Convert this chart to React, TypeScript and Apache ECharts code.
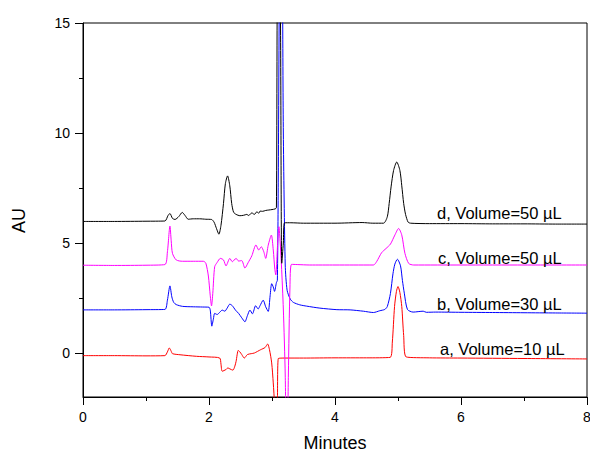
import React, { useEffect, useRef } from "react";
import * as echarts from "echarts";

const xTickValues = [0, 2, 4, 6, 8];
const yTickValues = [0, 5, 10, 15];
const yMinorTickValues = [2.5, 7.5, 12.5];

const seriesNames = ["a, Volume=10 µL", "b, Volume=30 µL", "c, Volume=50 µL", "d, Volume=50 µL"];
const seriesColors = ["#ff0000", "#0000ff", "#ff00ff", "#000000"];

const seriesA: [number, number][] = [
  [0, -0.12], [0.5, -0.12], [1.0, -0.13], [1.3, -0.12], [1.34, 0.05], [1.37, 0.23], [1.4, 0.08],
  [1.42, -0.03], [1.54, -0.08], [1.8, -0.15], [2.0, -0.18], [2.17, -0.23], [2.19, -0.5], [2.21, -0.83],
  [2.27, -0.75], [2.3, -0.68], [2.33, -0.72], [2.38, -0.78], [2.41, -0.6], [2.43, -0.38], [2.465, 0.12],
  [2.49, 0.05], [2.52, -0.07], [2.56, -0.23], [2.61, -0.07], [2.67, -0.03], [2.72, 0.0], [2.82, 0.15],
  [2.89, 0.25], [2.93, 0.41], [2.96, 0.15], [2.995, -0.45], [3.02, -1.36], [3.04, -2.3], [3.065, -3.5],
  [3.085, -2.3], [3.1, -0.25], [3.2, -0.23], [3.5, -0.23], [4.0, -0.22], [4.5, -0.22], [4.875, -0.2],
  [4.91, 0.5], [4.945, 2.11], [4.975, 2.8], [5.0, 3.02], [5.03, 2.75], [5.06, 2.11], [5.09, 0.8],
  [5.13, -0.18], [5.5, -0.22], [6, -0.23], [7, -0.25], [8, -0.27],
];

const seriesB: [number, number][] = [
  [0, 1.96], [0.5, 1.96], [1.0, 1.97], [1.3, 1.98], [1.34, 2.4], [1.38, 3.05], [1.41, 2.55], [1.44, 2.3],
  [1.48, 2.2], [1.58, 2.12], [1.75, 2.1], [1.9, 2.09], [2.0, 2.08], [2.02, 1.95], [2.045, 1.22],
  [2.07, 1.55], [2.09, 1.8], [2.13, 1.75], [2.17, 1.85], [2.21, 1.95], [2.25, 1.9], [2.29, 2.05],
  [2.33, 2.22], [2.37, 2.15], [2.42, 1.95], [2.47, 1.8], [2.52, 1.6], [2.57, 1.42], [2.61, 1.7],
  [2.65, 1.95], [2.69, 1.78], [2.74, 2.15], [2.78, 2.0], [2.81, 2.15], [2.86, 2.4], [2.9, 2.1],
  [2.94, 1.89], [2.97, 2.6], [2.995, 3.15], [3.02, 3.0], [3.04, 2.8], [3.07, 3.2], [3.085, 3.3],
  [3.1, 8], [3.12, 17], [3.155, 20], [3.18, 10], [3.21, 4.0], [3.24, 2.85], [3.29, 2.45], [3.34, 2.3],
  [3.44, 2.19], [3.55, 2.13], [3.76, 2.04], [4.03, 1.97], [4.24, 1.96], [4.45, 1.9], [4.61, 1.84],
  [4.71, 1.92], [4.79, 1.98], [4.83, 2.11], [4.88, 2.71], [4.92, 3.6], [4.95, 4.04], [4.99, 4.26],
  [5.04, 3.96], [5.07, 3.3], [5.1, 2.72], [5.15, 1.98], [5.24, 1.86], [5.4, 1.9], [5.45, 1.85],
  [5.6, 1.86], [6, 1.85], [6.5, 1.84], [7, 1.83], [7.5, 1.82], [8, 1.81],
];

const seriesC: [number, number][] = [
  [0, 3.99], [0.5, 3.98], [1.0, 3.99], [1.3, 4.02], [1.34, 4.6], [1.38, 5.77], [1.4, 5.1], [1.42, 4.53],
  [1.48, 4.23], [1.58, 4.17], [1.75, 4.17], [1.91, 4.17], [1.95, 4.08], [1.99, 3.5], [2.02, 2.6],
  [2.04, 2.14], [2.06, 2.7], [2.09, 3.92], [2.13, 4.12], [2.18, 4.3], [2.23, 4.23], [2.27, 3.96],
  [2.33, 4.3], [2.37, 4.15], [2.43, 4.3], [2.47, 4.18], [2.52, 4.2], [2.57, 3.86], [2.62, 4.1],
  [2.68, 4.42], [2.745, 4.91], [2.79, 4.68], [2.83, 4.83], [2.87, 4.6], [2.9, 4.3], [2.94, 4.9],
  [2.99, 5.36], [3.02, 4.68], [3.045, 3.8], [3.06, 3.55], [3.09, 5.0], [3.11, 5.74], [3.13, 5.0],
  [3.15, 4.0], [3.18, 2.0], [3.21, -1], [3.235, -6], [3.26, -1], [3.285, 3.0], [3.31, 4.03], [3.4, 4.02],
  [3.6, 4.0], [4.0, 4.0], [4.3, 4.0], [4.61, 4.0], [4.66, 4.15], [4.74, 4.56], [4.81, 4.75], [4.88, 4.95],
  [4.95, 5.36], [5.01, 5.66], [5.06, 5.36], [5.11, 4.53], [5.17, 4.07], [5.25, 4.0], [6, 4.0], [7, 4.0],
  [8, 4.0],
];

const seriesD: [number, number][] = [
  [0, 5.98], [0.5, 5.98], [1.0, 5.99], [1.3, 6.0], [1.35, 6.25], [1.38, 6.34], [1.42, 6.12], [1.46, 6.07],
  [1.52, 6.2], [1.575, 6.39], [1.62, 6.25], [1.67, 6.08], [1.75, 6.1], [1.85, 6.1], [1.95, 6.08],
  [2.04, 6.07], [2.08, 5.95], [2.12, 5.65], [2.157, 5.4], [2.19, 5.8], [2.23, 6.8], [2.26, 7.7],
  [2.295, 8.05], [2.33, 7.6], [2.36, 6.8], [2.39, 6.4], [2.43, 6.3], [2.49, 6.24], [2.55, 6.26],
  [2.6, 6.3], [2.63, 6.25], [2.68, 6.37], [2.72, 6.3], [2.76, 6.42], [2.79, 6.35], [2.81, 6.45],
  [2.85, 6.44], [2.9, 6.48], [2.95, 6.5], [3.0, 6.52], [3.05, 6.55], [3.07, 6.6], [3.085, 17],
  [3.11, 20], [3.135, 15], [3.155, 4.08], [3.18, 5.0], [3.2, 5.92], [3.3, 5.92], [3.5, 5.9], [4.0, 5.9],
  [4.43, 5.93], [4.6, 5.9], [4.77, 5.9], [4.83, 6.19], [4.86, 6.8], [4.89, 7.55], [4.93, 8.3],
  [4.98, 8.68], [5.03, 8.3], [5.06, 7.6], [5.09, 6.8], [5.12, 6.3], [5.16, 5.95], [5.2, 5.9],
  [5.5, 5.88], [6, 5.88], [6.5, 5.87], [7, 5.87], [7.5, 5.86], [8, 5.86],
];

const seriesData = [seriesA, seriesB, seriesC, seriesD];
const labelPositions: [number, number][] = [
  [440, 348.5],
  [437, 304],
  [438, 257.5],
  [437, 212.5],
];

const FONT = 'Arial, "Liberation Sans", Helvetica, sans-serif';

export default function App() {
  const ref = useRef<HTMLDivElement>(null);
  useEffect(() => {
    if (!ref.current) return;
    const chart = echarts.init(ref.current, null, { renderer: "svg" });
    chart.setOption({
      animation: false,
      backgroundColor: "#ffffff",
      grid: {
        left: 83,
        right: 3,
        top: 23,
        bottom: 56,
        show: true,
        borderColor: "#000",
        borderWidth: 1,
        containLabel: false,
        outerBoundsMode: "none",
      },
      xAxis: {
        type: "value",
        min: 0,
        max: 8,
        interval: 2,
        axisLine: { show: true, onZero: false, lineStyle: { color: "#000", width: 1 } },
        axisTick: { show: true, inside: false, length: 8, lineStyle: { color: "#000" } },
        minorTick: { show: true, splitNumber: 2, length: 4, lineStyle: { color: "#000" } },
        axisLabel: {
          color: "#000",
          fontSize: 14,
          fontFamily: FONT,
          margin: 13,
          customValues: xTickValues,
        },
        splitLine: { show: false },
        minorSplitLine: { show: false },
      },
      yAxis: [
        {
          type: "value",
          min: -2,
          max: 15,
          position: "left",
          axisLine: { show: true, onZero: false, lineStyle: { color: "#000", width: 1 } },
          axisTick: { show: true, inside: false, length: 8, customValues: yTickValues, lineStyle: { color: "#000" } },
          axisLabel: {
            color: "#000",
            fontSize: 14,
            fontFamily: FONT,
            margin: 13,
            customValues: yTickValues,
          },
          splitLine: { show: false },
        },
        {
          type: "value",
          min: -2,
          max: 15,
          position: "left",
          axisLine: { show: false, onZero: false },
          axisTick: { show: true, inside: false, length: 4, customValues: yMinorTickValues, lineStyle: { color: "#000" } },
          axisLabel: { show: false },
          splitLine: { show: false },
        },
      ],
      series: seriesData.map((d, i) => ({
        type: "line",
        name: seriesNames[i],
        data: d,
        yAxisIndex: 0,
        showSymbol: false,
        symbol: "none",
        smooth: 0.25,
        clip: true,
        lineStyle: { color: seriesColors[i], width: 1 },
        itemStyle: { color: seriesColors[i] },
        z: 2 + i,
      })),
      graphic: [
        ...seriesNames.map((n, i) => ({
          type: "text",
          x: labelPositions[i][0],
          y: labelPositions[i][1],
          style: {
            text: n,
            fill: "#000",
            fontSize: 16.5,
            fontFamily: FONT,
            align: "left",
            verticalAlign: "middle",
          },
          z: 10,
        })),
        {
          type: "text",
          x: 335,
          y: 443,
          style: {
            text: "Minutes",
            fill: "#000",
            fontSize: 18,
            fontFamily: FONT,
            align: "center",
            verticalAlign: "middle",
          },
        },
        {
          type: "text",
          x: 18.5,
          y: 220.5,
          rotation: Math.PI / 2,
          style: {
            text: "AU",
            fill: "#000",
            fontSize: 18,
            fontFamily: FONT,
            align: "center",
            verticalAlign: "middle",
          },
        },
      ],
    });
    return () => chart.dispose();
  }, []);
  return (
    <div
      ref={ref}
      style={{ position: "fixed", left: 0, top: 0, width: 590, height: 453, background: "#fff" }}
    />
  );
}
